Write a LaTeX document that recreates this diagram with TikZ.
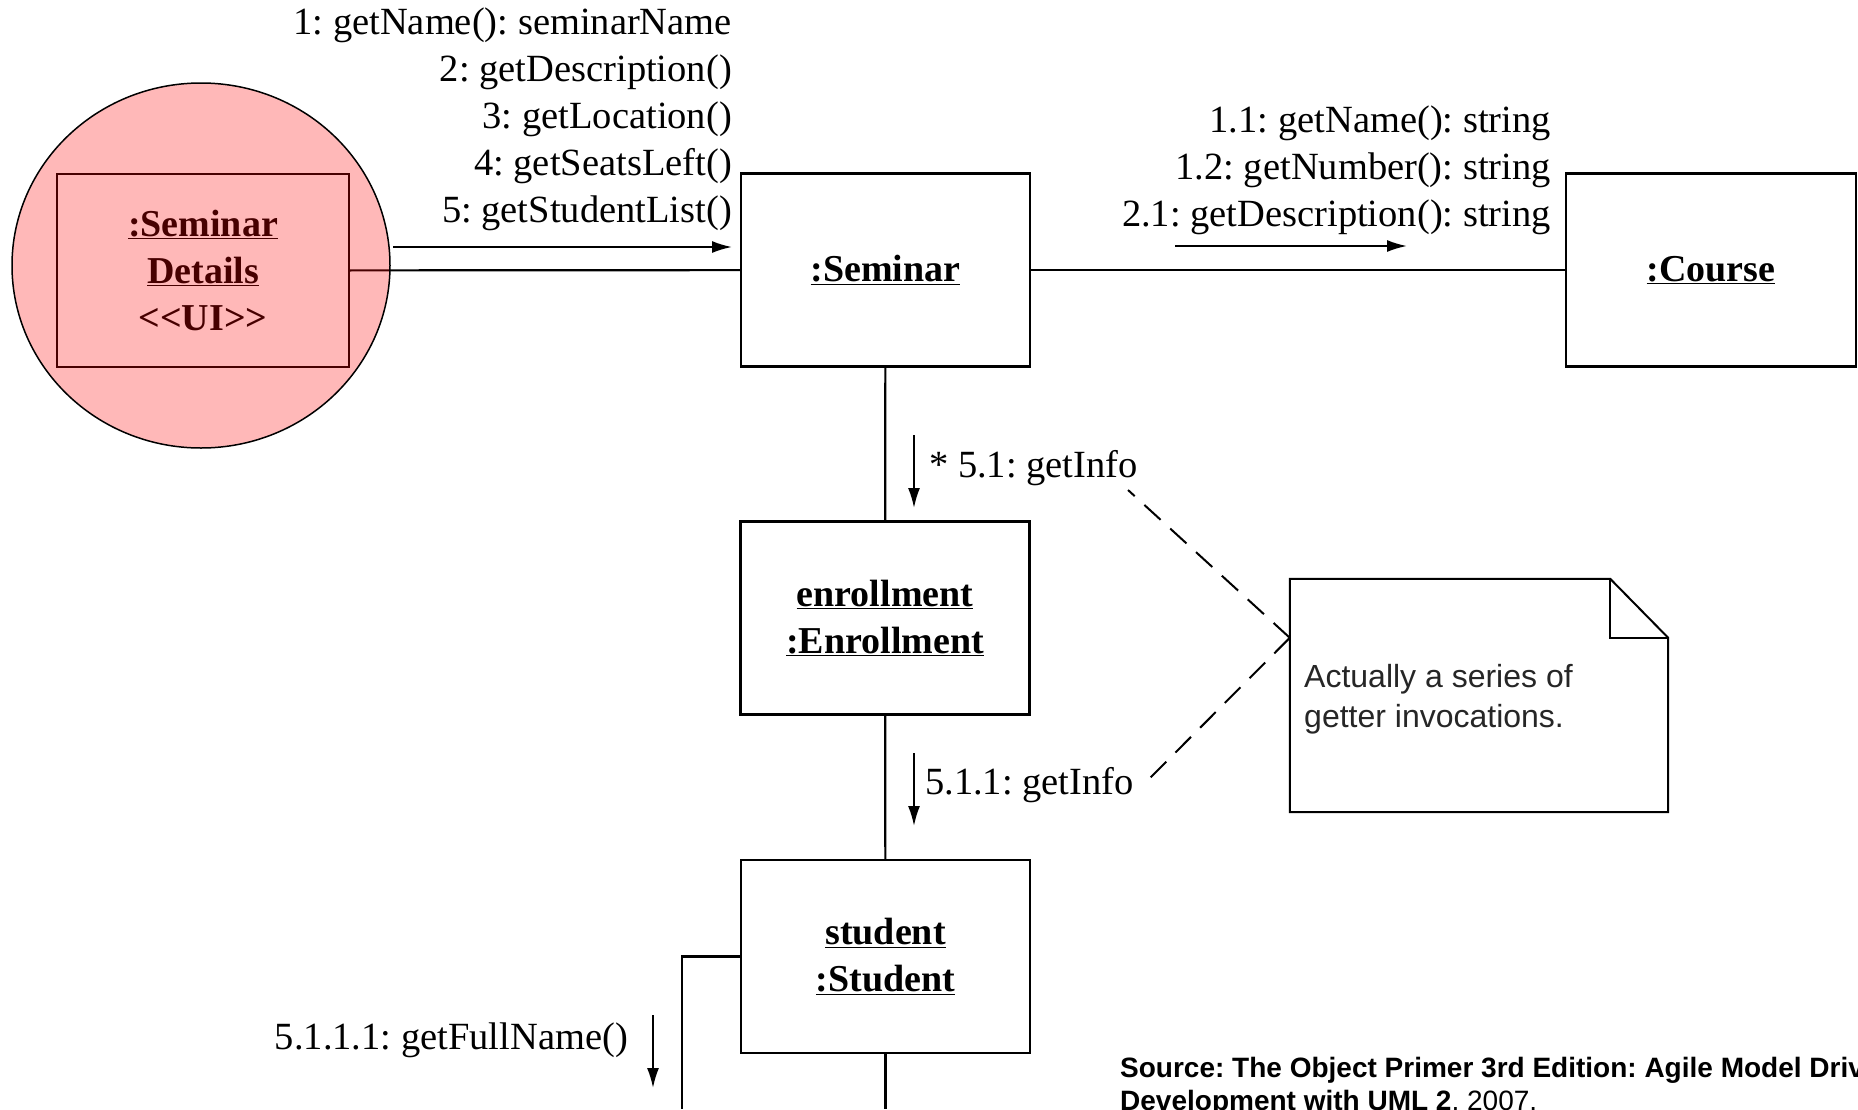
\documentclass[tikz,border=0pt]{standalone}
\usepackage{fontspec}
\setmainfont{Liberation Serif}
\newfontfamily\arialfont{Liberation Sans}
\usetikzlibrary{arrows.meta,shapes.geometric}
\frenchspacing
\begin{document}
\begin{tikzpicture}[x=1pt,y=-1pt,
  objbox/.style={draw, line width=2.3pt, minimum width=289pt, minimum height=193pt, inner sep=0pt, align=center, font=\fontsize{38}{47}\selectfont\bfseries},
  lbl/.style={inner sep=0pt, font=\fontsize{38.5}{47}\selectfont},
  conn/.style={line width=2.2pt},
  msg/.style={line width=2pt, -{Latex[length=20pt,width=12pt]}},
  notelink/.style={line width=2pt, dash pattern=on 22pt off 13pt},
  srcstyle/.style={inner sep=0pt, anchor=base west, font=\arialfont\fontsize{28}{33}\selectfont},
]
\useasboundingbox (0,0) rectangle (1858,1109);
\clip (0,0) rectangle (1858,1109);

% object boxes
\node[objbox, minimum width=292pt] (sd) at (203,270.5) {\underline{:Seminar}\\\underline{Details}\\<\kern0pt<UI>\kern0pt>};
\node[objbox] (sem) at (885.5,270) {\underline{:Seminar}};
\node[objbox, minimum width=290pt] (crs) at (1711,270) {\underline{:Course}};
\node[objbox] (enr) at (885,618) {\underline{enrollment}\\\underline{:Enrollment}};
\node[objbox] (stu) at (885.5,956.5) {\underline{student}\\\underline{:Student}};

% links
\coordinate (loopc) at (682,1109);
\coordinate (bottomc) at (885.5,1109);
\draw[conn] (sd) -- (sem);
\draw[conn] (sem) -- (crs);
\draw[conn] (sem) -- (enr);
\draw[conn] (enr) -- (stu);
\draw[conn] (stu.west) -| (loopc);
\draw[conn] (stu) -- (bottomc);

% highlight circle
\node[ellipse, minimum width=378pt, minimum height=365pt, inner sep=0pt, fill=red, fill opacity=0.28, draw=black, line width=1.5pt] (hl) at (201,265.5) {};

% message arrows
\coordinate (m1s) at (393,247); \coordinate (m1e) at (732,247);
\coordinate (m2s) at (1175,246); \coordinate (m2e) at (1407,246);
\coordinate (m3s) at (914,435); \coordinate (m3e) at (914,508);
\coordinate (m4s) at (914,753); \coordinate (m4e) at (914,826);
\coordinate (m5s) at (653,1015); \coordinate (m5e) at (653,1088);
\draw[msg] (m1s) -- (m1e);
\draw[msg] (m2s) -- (m2e);
\draw[msg] (m3s) -- (m3e);
\draw[msg] (m4s) -- (m4e);
\draw[msg] (m5s) -- (m5e);

% message labels
\node[lbl, anchor=base east] (l1) at (732,34) {1: getName(): seminarName};
\node[lbl, anchor=base east] (l2) at (732,81) {2: getDescription()};
\node[lbl, anchor=base east] (l3) at (732,128) {3: getLocation()};
\node[lbl, anchor=base east] (l4) at (732,175) {4: getSeatsLeft()};
\node[lbl, anchor=base east] (l5) at (732,222) {5: getStudentList()};
\node[lbl, anchor=base east] (l11) at (1551,132) {1.1: getName(): string};
\node[lbl, anchor=base east] (l12) at (1551,179) {1.2: getNumber(): string};
\node[lbl, anchor=base east] (l21) at (1551,226) {2.1: getDescription(): string};
\node[lbl, anchor=base west] (l51) at (929,477) {* 5.1: getInfo};
\node[lbl, anchor=base west] (l511) at (925,794) {5.1.1: getInfo};
\node[lbl, anchor=base east] (l5111) at (628,1049) {5.1.1.1: getFullName()};

% note
\node[minimum width=378pt, minimum height=233pt, inner sep=0pt] (note) at (1479,695.5) {};
\draw[line width=2pt] (note.north west) -- ([xshift=-58pt]note.north east) -- ([yshift=-59pt]note.north east) -- (note.south east) -- (note.south west) -- cycle;
\draw[line width=2pt] ([xshift=-58pt]note.north east) |- ([yshift=-59pt]note.north east);
\node[anchor=west, inner sep=0pt, align=left, font=\arialfont\fontsize{32}{40}\selectfont, text=black!85] (ntext) at (1304,699) {Actually a series of\\getter invocations.};
\coordinate (nanc) at ([yshift=-59pt]note.north west);
\coordinate (d1) at (1128,490);
\coordinate (d2) at (1142,786);
\draw[notelink] (nanc) -- (d1);
\draw[notelink] (nanc) -- (d2);

% source
\node[srcstyle] (src1) at (1120,1077) {\textbf{Source: The Object Primer 3rd Edition: Agile Model Driven}};
\node[srcstyle] (src2) at (1120,1110) {\textbf{Development with UML 2}, 2007.};
\end{tikzpicture}
\end{document}
